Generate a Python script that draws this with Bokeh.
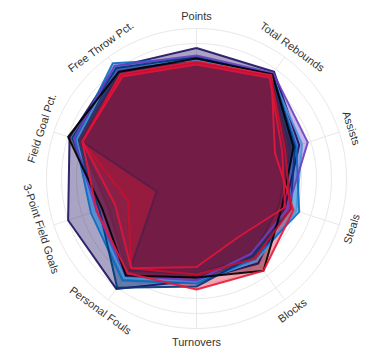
import numpy as np
from bokeh.plotting import figure
from bokeh.models import ColumnDataSource
from bokeh.embed import file_html
from bokeh.resources import INLINE
from bokeh.core.properties import value

axes_labels = ["Points", "Total Rebounds", "Assists", "Steals", "Blocks",
               "Turnovers", "Personal Fouls", "3-Point Field Goals",
               "Field Goal Pct.", "Free Throw Pct."]

# normalized values (fraction of the outer ring) per axis
team_navy   = [0.87, 0.88, 0.72, 0.62, 0.70, 0.68, 0.91, 0.90, 0.89, 0.92]
team_sky    = [0.79, 0.85, 0.74, 0.70, 0.68, 0.69, 0.82, 0.72, 0.84, 0.92]
team_blue   = [0.80, 0.86, 0.70, 0.72, 0.66, 0.70, 0.84, 0.74, 0.85, 0.95]
team_dkblue = [0.81, 0.86, 0.69, 0.66, 0.64, 0.72, 0.90, 0.68, 0.87, 0.91]
team_purple = [0.82, 0.87, 0.78, 0.64, 0.62, 0.68, 0.80, 0.70, 0.86, 0.93]
team_black  = [0.80, 0.86, 0.68, 0.60, 0.76, 0.66, 0.80, 0.66, 0.90, 0.88]
team_red    = [0.78, 0.85, 0.55, 0.68, 0.76, 0.74, 0.78, 0.70, 0.80, 0.86]
team_red3   = [0.77, 0.84, 0.62, 0.66, 0.66, 0.64, 0.74, 0.48, 0.80, 0.85]
team_red2   = [0.76, 0.83, 0.60, 0.62, 0.48, 0.59, 0.74, 0.57, 0.80, 0.84]
team_wine   = [0.79, 0.84, 0.64, 0.62, 0.66, 0.66, 0.78, 0.62, 0.82, 0.86]
team_shadow = [0.80, 0.84, 0.66, 0.58, 0.64, 0.64, 0.76, 0.28, 0.81, 0.88]

names = ["navy", "sky", "blue", "dkblue", "purple", "black",
         "red", "red3", "red2", "wine", "shadow"]
series = [team_navy, team_sky, team_blue, team_dkblue, team_purple,
          team_black, team_red, team_red3, team_red2, team_wine, team_shadow]
colors = ["#1d1160", "#4a95d8", "#0a6cc2", "#00367a", "#6a3fc4",
          "#000000", "#e8173a", "#c8102e", "#e0143c", "#6f1d3b", "#3a1f4f"]
# outlines are stroked after all fills, reds last
outline_order = ["navy", "shadow", "wine", "sky", "blue", "dkblue", "purple",
                 "black", "red", "red3", "red2"]

R = 150.0
n = len(axes_labels)
theta = np.arange(n) * 2 * np.pi / n  # clockwise from top

W, H = 383, 355
cx, cy = 196, 178
p = figure(width=W, height=H, x_range=(-cx, W - cx), y_range=(-(H - cy), cy),
           output_backend="svg", toolbar_location=None, min_border=0)
p.axis.visible = False
p.grid.visible = False
p.outline_line_color = None
p.background_fill_color = "white"
p.border_fill_color = "white"

# grid rings
for k in range(1, 11):
    r = R * k / 10
    t = np.linspace(0, 2 * np.pi, 200)
    p.line(r * np.sin(t), r * np.cos(t), line_color="#e8e8e8", line_width=1)
# spokes
for t in theta:
    p.line([0, R * np.sin(t)], [0, R * np.cos(t)], line_color="#e8e8e8", line_width=1)

polys = {}
for nm, vals, c in zip(names, series, colors):
    v = np.array(vals)
    xs = list(v * R * np.sin(theta))
    ys = list(v * R * np.cos(theta))
    polys[nm] = (xs + [xs[0]], ys + [ys[0]], c)
    p.patch(xs, ys, fill_color=c, fill_alpha=0.38, line_color=None)

for nm in outline_order:
    xs, ys, c = polys[nm]
    alpha = 0.55 if nm in ("shadow", "wine") else 0.9
    p.line(xs, ys, line_color=c, line_width=2, line_alpha=alpha, line_join="round")

# labels
lr = 163
angles = []
for t in theta:
    d = np.degrees(t)
    if 90 < d < 270:
        angles.append(np.radians(180 - d))
    else:
        angles.append(np.radians(-d))
src = ColumnDataSource(dict(x=lr * np.sin(theta), y=lr * np.cos(theta),
                            text=axes_labels, angle=angles))
p.text(x="x", y="y", text="text", angle="angle", source=src,
       text_align="center", text_baseline="middle", text_font_size="11px",
       text_font=value("Liberation Sans"), text_color="#333333")

open("out.html", "w").write(file_html(p, INLINE))
